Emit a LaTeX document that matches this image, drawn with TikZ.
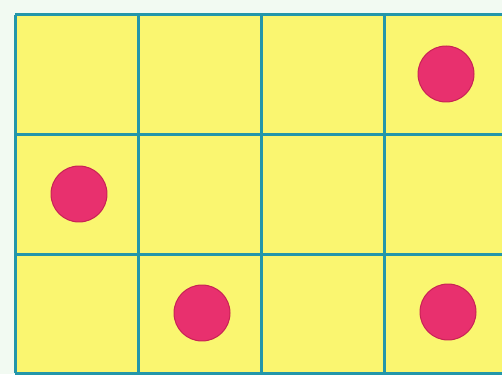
\documentclass[tikz,border=0pt]{standalone}
\definecolor{bgpale}{RGB}{242,250,242}
\definecolor{cellyellow}{RGB}{250,246,112}
\definecolor{gridteal}{RGB}{35,150,170}
\definecolor{dotpink}{RGB}{232,48,110}
\definecolor{dotedge}{RGB}{200,35,85}
\tikzset{
  gridline/.style={draw=gridteal, line width=0.06cm},
  dot/.style={circle, fill=dotpink, draw=dotedge, line width=0.02cm, minimum size=1.12cm, inner sep=0pt}
}
\begin{document}
\begin{tikzpicture}[x=0.02cm,y=-0.02cm]
\useasboundingbox (0,0) rectangle (502,374);
\clip (0,0) rectangle (502,374);
\fill[bgpale] (0,0) rectangle (502,374);
\fill[cellyellow] (15,15) rectangle (507,373);
\foreach \x in {15,138,261,384,507} \draw[gridline] (\x,15) -- (\x,373);
\foreach \y in {15,134.5,254,373} \draw[gridline] (15,\y) -- (507,\y);
\node[dot] (d1) at (446,74) {};
\node[dot] (d2) at (79,194) {};
\node[dot] (d3) at (202,313) {};
\node[dot] (d4) at (448,312) {};
\end{tikzpicture}
\end{document}
